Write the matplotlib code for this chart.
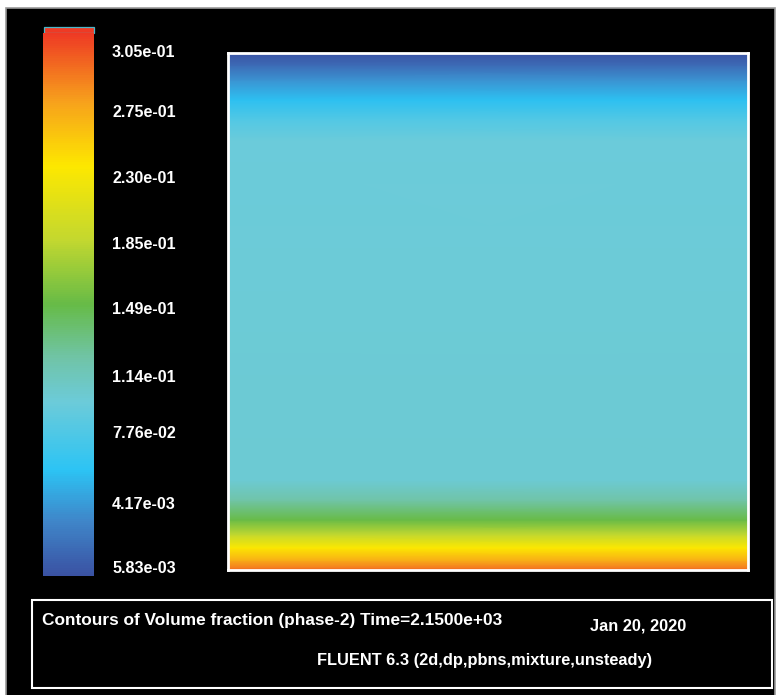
import numpy as np
import matplotlib
matplotlib.use("Agg")
import matplotlib.pyplot as plt
from matplotlib.colors import LinearSegmentedColormap, Normalize
from matplotlib.patches import Rectangle
import matplotlib.cm as cm

plt.rcParams['font.family'] = ['Liberation Sans', 'DejaVu Sans']

# colour map stops (fraction from bottom, colour)
cmap_pos = [0.0, 0.10, 0.195, 0.32, 0.40, 0.50, 0.62, 0.755, 0.875, 1.0]
cmap_col = ["#3a52a3", "#3f86c9", "#2cc4f4", "#6ccbd9", "#70c4a8",
            "#66bb47", "#c3d82f", "#fde800", "#f7a11c", "#ee3a24"]

# legend labels as printed by Fluent, with their place on the bar
cbar_ticks = [0.967, 0.857, 0.735, 0.614, 0.493, 0.369, 0.265, 0.134, 0.017]
cbar_labels = ["3.05e-01", "2.75e-01", "2.30e-01", "1.85e-01", "1.49e-01",
               "1.14e-01", "7.76e-02", "4.17e-03", "5.83e-03"]

# vertical profile of the field (height fraction, level on the colour scale)
height = [0.0, 0.004, 0.019, 0.043, 0.068, 0.097, 0.135, 0.174, 0.50,
          0.83, 0.87, 0.909, 0.948, 0.977, 1.0]
level = [0.96, 0.92, 0.85, 0.75, 0.62, 0.50, 0.40, 0.33, 0.325,
         0.32, 0.27, 0.19, 0.12, 0.05, 0.0]

cmap = LinearSegmentedColormap.from_list("fluent", list(zip(cmap_pos, cmap_col)))
norm = Normalize(0, 1)

W, H = 780, 695
fig = plt.figure(figsize=(W / 100, H / 100), dpi=100, facecolor="white")

def fbox(x0, y0, x1, y1):
    # pixel box (top-left origin) -> figure rect
    return [x0 / W, 1 - y1 / H, (x1 - x0) / W, (y1 - y0) / H]

# black canvas
bg = fig.add_axes([0, 0, 1, 1])
bg.set_xlim(0, W)
bg.set_ylim(H, 0)
bg.axis("off")
bg.add_patch(Rectangle((6, 8), 769, 690, facecolor="black", edgecolor="#9a9a9a", lw=1.2))

# info box at the bottom
bg.add_patch(Rectangle((32, 600), 740, 88, facecolor="none", edgecolor="white", lw=1.5))
bg.text(42, 620, "Contours of Volume fraction (phase-2) Time=2.1500e+03",
        color="white", fontsize=12.4, fontweight="bold", va="center", ha="left")
bg.text(590, 626, "Jan 20, 2020", color="white", fontsize=11.8,
        fontweight="bold", va="center", ha="left")
bg.text(317, 661, "FLUENT 6.3 (2d,dp,pbns,mixture,unsteady)", color="white",
        fontsize=11.8, fontweight="bold", va="center", ha="left")

# small box above the legend bar (values beyond the max)
bg.add_patch(Rectangle((43.5, 26.5), 50.5, 6, facecolor="#ee3a24", edgecolor="#4ab6c8", lw=0.9))

# contour field
ax = fig.add_axes(fbox(228, 53, 748, 570))
Z = np.column_stack([level, level])
ax.pcolormesh([0, 1], height, Z, cmap=cmap, norm=norm, shading="gouraud")
ax.set_xlim(0, 1)
ax.set_ylim(0, 1)
ax.set_xticks([])
ax.set_yticks([])
for s in ax.spines.values():
    s.set_color("white")
    s.set_linewidth(2)

# legend bar
cax = fig.add_axes(fbox(43, 33, 94, 576))
sm = cm.ScalarMappable(norm=norm, cmap=cmap)
cb = fig.colorbar(sm, cax=cax)
cb.outline.set_visible(False)
cb.set_ticks(cbar_ticks)
cb.set_ticklabels(cbar_labels)
cax.yaxis.set_tick_params(length=0, pad=13, labelcolor="white", labelsize=11.6)
for t in cax.get_yticklabels():
    t.set_fontweight("bold")

fig.savefig("out.png", dpi=100, facecolor="white")
